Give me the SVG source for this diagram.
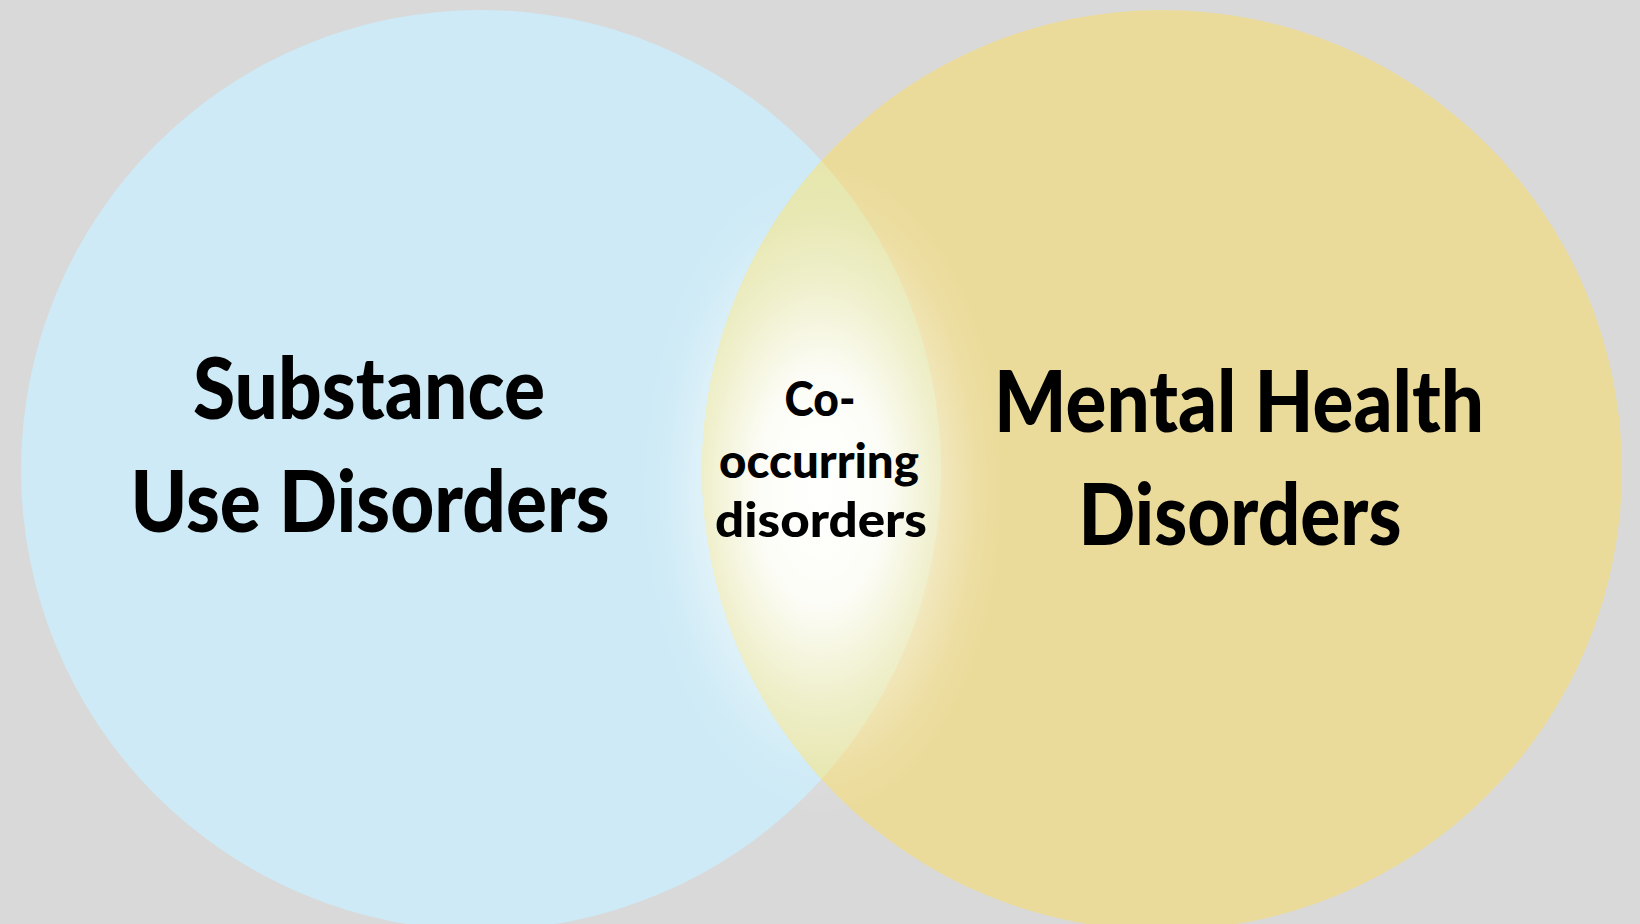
<svg xmlns="http://www.w3.org/2000/svg" width="1640" height="924" viewBox="0 0 1640 924">
  <style>
    .lbl { font-family: Lato, "DejaVu Sans", sans-serif; font-weight: 900; fill: #000; text-anchor: middle; }
    .big { font-size: 86px; }
    .small { font-size: 47px; }
  </style>
  <defs>
    <radialGradient id="glow" cx="0.5" cy="0.5" r="0.5">
      <stop offset="0" stop-color="#ffffff" stop-opacity="1"/>
      <stop offset="0.35" stop-color="#ffffff" stop-opacity="0.9"/>
      <stop offset="0.65" stop-color="#ffffff" stop-opacity="0.35"/>
      <stop offset="0.85" stop-color="#ffffff" stop-opacity="0.08"/>
      <stop offset="1" stop-color="#ffffff" stop-opacity="0"/>
    </radialGradient>
    <clipPath id="leftClip"><circle cx="481" cy="470" r="460"/></clipPath>
  </defs>
  <rect width="1640" height="924" fill="#d9d9d9"/>
  <g id="substance-use">
    <circle cx="481" cy="470" r="460" fill="#cdeaf6"/>
  </g>
  <g id="mental-health">
    <circle cx="1162" cy="470" r="460" fill="#ebdb9a"/>
  </g>
  <g id="co-occurring">
    <circle cx="1162" cy="470" r="460" fill="#e6e6ad" clip-path="url(#leftClip)"/>
    <ellipse cx="821" cy="490" rx="185" ry="330" fill="url(#glow)"/>
  </g>
  <g id="connectors"></g>
  <g id="labels">
    <text class="lbl big" x="369" y="419" textLength="352" lengthAdjust="spacingAndGlyphs">Substance</text>
    <text class="lbl big" x="370" y="532" textLength="479" lengthAdjust="spacingAndGlyphs">Use Disorders</text>
    <text class="lbl big" x="1239" y="432" textLength="490" lengthAdjust="spacingAndGlyphs">Mental Health</text>
    <text class="lbl big" x="1240" y="545" textLength="323" lengthAdjust="spacingAndGlyphs">Disorders</text>
    <text class="lbl small" x="820" y="416" textLength="71" lengthAdjust="spacingAndGlyphs">Co-</text>
    <text class="lbl small" x="819" y="478" textLength="200" lengthAdjust="spacingAndGlyphs">occurring</text>
    <text class="lbl small" x="821" y="537" textLength="212" lengthAdjust="spacingAndGlyphs">disorders</text>
  </g>
</svg>
